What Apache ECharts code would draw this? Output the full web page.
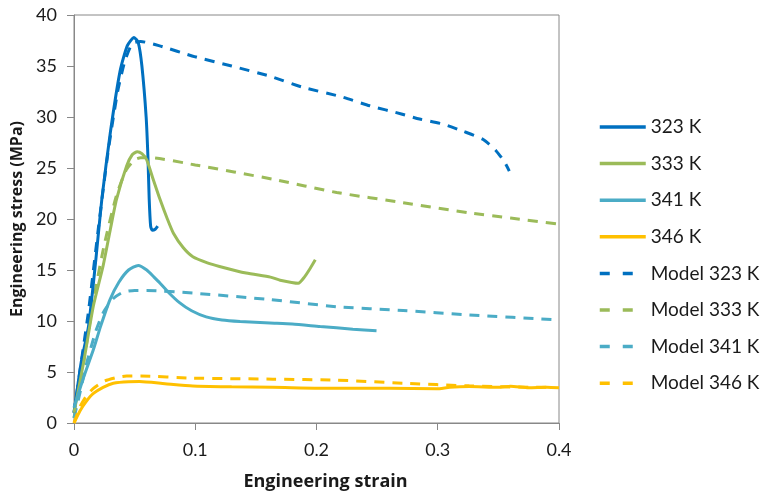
<!DOCTYPE html>
<html>
<head>
<meta charset="utf-8">
<script src="https://cdn.jsdelivr.net/npm/echarts@6/dist/echarts.min.js"></script>
<style>html,body{margin:0;padding:0;background:#fff}#c{width:763px;height:497px}</style>
</head>
<body>
<div id="c"></div>
<script>
const seriesNames = ['323 K','333 K','341 K','346 K','Model 323 K','Model 333 K','Model 341 K','Model 346 K'];
const seriesColors = ['#0070C0','#9BBB59','#4BACC6','#FFC000','#0070C0','#9BBB59','#4BACC6','#FFC000'];
const xTicks = [0,0.1,0.2,0.3,0.4];
const yTicks = [0,5,10,15,20,25,30,35,40];

const s323 = [[0,1],[0.006,6],[0.012,9.5],[0.018,16],[0.023,22],[0.03,28.5],[0.038,34.5],[0.044,37],[0.0495,37.8],[0.053,37.3],[0.056,35],[0.0595,30],[0.061,26],[0.062,22],[0.0632,19.3],[0.0645,18.9],[0.067,19.0],[0.069,19.3]];
const s333 = [[0,1],[0.008,6],[0.016,11.5],[0.024,15.4],[0.03,19],[0.035,21.9],[0.0434,25.2],[0.048,26.3],[0.0522,26.6],[0.056,26.4],[0.06,25.8],[0.065,24],[0.071,21.9],[0.077,20],[0.082,18.6],[0.09,17.2],[0.098,16.3],[0.11,15.7],[0.12,15.35],[0.142,14.7],[0.162,14.3],[0.17,14.0],[0.185,13.7],[0.19,14.3],[0.195,15.2],[0.199,16.0]];
const s341 = [[0,1.5],[0.008,4.5],[0.016,7.2],[0.022,9.5],[0.0297,12.1],[0.037,13.8],[0.045,15],[0.053,15.45],[0.06,15],[0.066,14.3],[0.071,13.7],[0.078,12.8],[0.087,11.8],[0.097,11],[0.109,10.4],[0.122,10.1],[0.137,9.95],[0.1616,9.8],[0.18,9.7],[0.203,9.46],[0.23,9.2],[0.2495,9.04]];
const s346 = [[0,0],[0.005,1.2],[0.01,2.1],[0.016,2.9],[0.024,3.5],[0.0324,3.9],[0.045,4.05],[0.054,4.06],[0.075,3.85],[0.098,3.63],[0.13,3.55],[0.164,3.5],[0.2166,3.4],[0.26,3.4],[0.299,3.35],[0.31,3.5],[0.326,3.57],[0.35,3.5],[0.36,3.6],[0.375,3.45],[0.39,3.5],[0.4,3.45]];
const m323 = [[0,1],[0.006,6],[0.012,11],[0.02,19],[0.028,26.5],[0.036,32.5],[0.042,35.5],[0.048,37.2],[0.055,37.4],[0.07,37.0],[0.1,35.9],[0.13,35.0],[0.1616,34.0],[0.189,32.9],[0.22,32],[0.244,31.1],[0.27,30.3],[0.285,29.8],[0.3045,29.3],[0.321,28.6],[0.3375,27.8],[0.348,26.7],[0.355,25.6],[0.359,24.7]];
const m333 = [[0,0.5],[0.008,6],[0.016,12],[0.025,17.5],[0.035,22.3],[0.043,24.8],[0.05,25.8],[0.055,26.0],[0.063,26.0],[0.1,25.3],[0.164,23.9],[0.2166,22.6],[0.2715,21.6],[0.326,20.6],[0.36,20.1],[0.4,19.5]];
const m341 = [[0,0.5],[0.005,3],[0.0105,5.9],[0.018,9],[0.024,10.8],[0.0324,12.2],[0.04,12.8],[0.05,13.0],[0.06,13.0],[0.098,12.74],[0.1616,12.1],[0.2166,11.4],[0.2715,11.03],[0.326,10.6],[0.4,10.1]];
const m346 = [[0,0],[0.005,1.6],[0.01,2.6],[0.016,3.4],[0.025,4.1],[0.035,4.45],[0.0434,4.6],[0.055,4.6],[0.098,4.4],[0.164,4.3],[0.2166,4.2],[0.2715,3.9],[0.326,3.64],[0.381,3.5],[0.395,3.5]];

const allData = [s323,s333,s341,s346,m323,m333,m341,m346];
const FONT = 'Lato, "Open Sans", sans-serif';
const chart = echarts.init(document.getElementById('c'));
chart.setOption({
  animation: false,
  backgroundColor: '#fff',
  grid: {left: 74, right: 204, top: 15, bottom: 74, show: true, borderColor: '#888', borderWidth: 1},
  legend: {
    orient: 'vertical', left: 593, top: 112,
    itemWidth: 46, itemHeight: 3, itemGap: 16.6,
    itemStyle: {opacity: 0},
    textStyle: {fontFamily: FONT, fontSize: 19, color: '#1a1a1a', lineHeight: 20},
    data: seriesNames.map((n, i) => ({name: n, lineStyle: {width: 3.5, type: i >= 4 ? [10, 13, 10, 100] : 'solid'}}))
  },
  xAxis: {
    type: 'value', min: xTicks[0], max: xTicks[xTicks.length-1], interval: 0.1,
    name: 'Engineering strain', nameLocation: 'middle', nameGap: 50,
    nameTextStyle: {fontFamily: '"Open Sans", Lato, sans-serif', fontSize: 18, fontWeight: 'bold', color: '#1a1a1a', padding: [0, 0, 0, 18]},
    axisLine: {lineStyle: {color: '#888', width: 1}},
    axisTick: {show: true, length: 7, lineStyle: {color: '#888'}},
    axisLabel: {fontFamily: FONT, fontSize: 18, color: '#1a1a1a', margin: 18, formatter: v => String(+v.toFixed(1))},
    splitLine: {show: false}
  },
  yAxis: {
    type: 'value', min: yTicks[0], max: yTicks[yTicks.length-1], interval: 5,
    name: 'Engineering stress (MPa)', nameLocation: 'middle', nameGap: 35,
    nameTextStyle: {fontFamily: '"Open Sans", Lato, sans-serif', fontSize: 16, fontWeight: 'bold', color: '#1a1a1a'},
    axisLine: {show: true, lineStyle: {color: '#888', width: 1}},
    axisTick: {show: true, length: 7, lineStyle: {color: '#888'}},
    axisLabel: {fontFamily: FONT, fontSize: 18, color: '#1a1a1a', margin: 17},
    splitLine: {show: false}
  },
  series: seriesNames.map((n, i) => ({
    name: n, type: 'line', data: allData[i], symbol: 'none', smooth: 0.2,
    color: seriesColors[i],
    lineStyle: {color: seriesColors[i], width: 3, type: i >= 4 ? [10, 8] : 'solid'},
    z: i >= 4 ? 2 : 3
  }))
});
</script>
</body>
</html>
